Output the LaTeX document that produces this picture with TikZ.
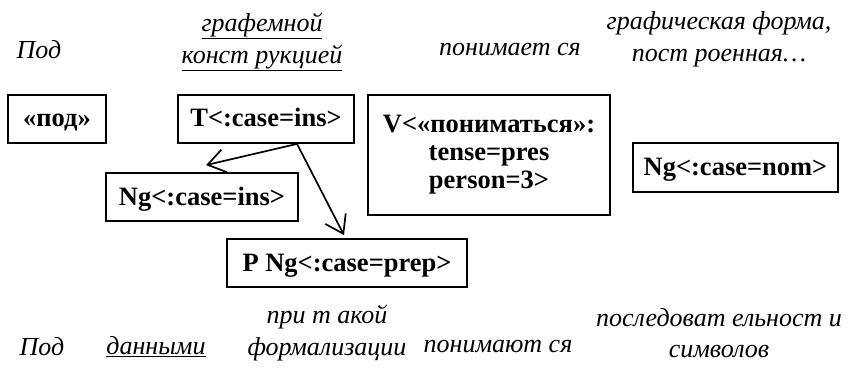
\documentclass[tikz,border=0pt]{standalone}
\usepackage{fontspec}
\setmainfont{Liberation Serif}
\usetikzlibrary{arrows.meta}
\begin{document}
\begin{tikzpicture}[x=1pt,y=-1pt,
  box/.style={draw, line width=1.8pt, font=\fontsize{26.5}{28}\selectfont\bfseries, inner sep=0pt, align=center},
  onebox/.style={box, text height=20pt, text depth=4pt},
  lbl/.style={font=\fontsize{26}{31.5}\selectfont\itshape, align=center, inner sep=0pt},
  arr/.style={line width=1.7pt, -{Straight Barb[length=17pt,width=23pt,line width=1.7pt]}}]
\useasboundingbox (0,0) rectangle (848,377);
% boxes
\node[onebox, minimum width=98pt, minimum height=48pt] (pod) at (57,119) {«под»};
\node[onebox, minimum width=176pt, minimum height=48pt] (T) at (266,119) {T<:case=ins>};
\node[box, minimum width=242pt, minimum height=120pt] (V) at (489,155) {V<«пониматься»:\\tense=pres\\person=3>};
\node[onebox, minimum width=192pt, minimum height=48pt] (Ngins) at (202,197) {Ng<:case=ins>};
\node[onebox, minimum width=240pt, minimum height=48pt] (P) at (347,263) {P Ng<:case=prep>};
\node[onebox, minimum width=205pt, minimum height=49pt] (Ngnom) at (735.5,167.5) {Ng<:case=nom>};
% arrows
\coordinate (tb) at ([xshift=31pt]T.south);
\draw[arr] (tb) -- ([xshift=4pt,yshift=7pt]Ngins.north);
\draw[arr] (tb) -- ([xshift=-3pt,yshift=3pt]P.north);
% top labels
\node[lbl] (t1) at (39,50) {Под};
\node[lbl] (t2) at (262,42) {\underline{графемной}\\\underline{конст рукцией}};
\node[lbl] (t3) at (510,50) {понимает ся};
\node[lbl] (t4) at (719,39) {графическая форма,\\пост роенная…};
% bottom labels
\node[lbl] (b1) at (42,347) {Под};
\node[lbl] (b2) at (156,347) {\underline{данными}};
\node[lbl] (b3) at (327,333) {при т акой\\формализации};
\node[lbl] (b4) at (498,347) {понимают ся};
\node[lbl] (b5) at (719,333) {последоват ельност и\\символов};
\end{tikzpicture}
\end{document}
